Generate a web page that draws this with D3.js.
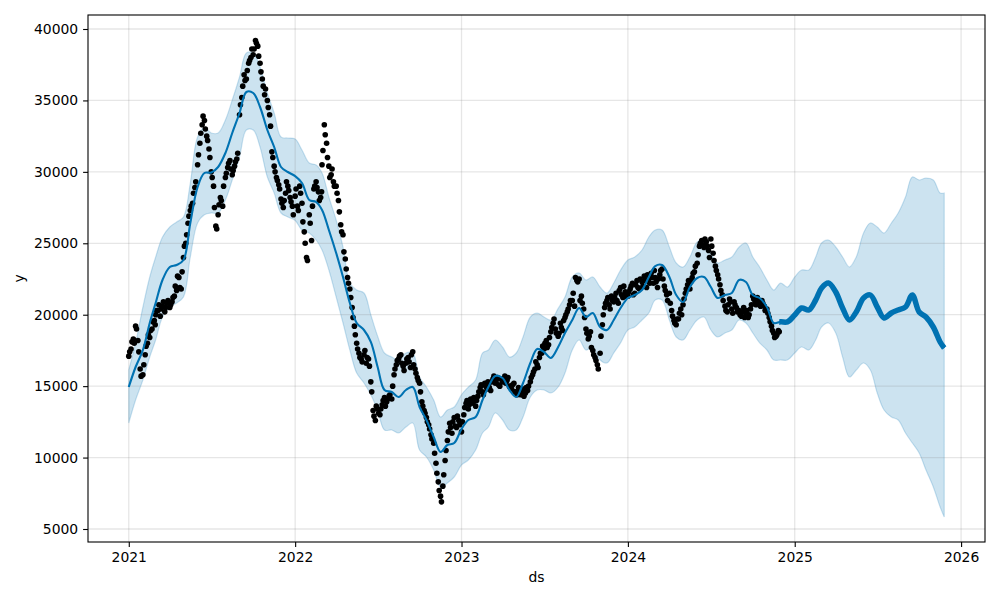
<!DOCTYPE html>
<html><head><meta charset="utf-8">
<script src="https://cdn.jsdelivr.net/npm/d3@7"></script>
<style>
body{margin:0;background:#fff}
svg text{font-family:"DejaVu Sans",sans-serif;fill:#000}
</style>
</head><body>
<svg id="c" width="1000" height="600"></svg>
<script>
// ---------- DATA ----------
// observed values: 6 readings per month on the days below, one array per year
const obsDays = [1, 6, 11, 16, 21, 26];
const obsYears = [2021, 2022, 2023, 2024];
const obs2021 = [
  17100, 17600, 18300, 19200, 18200, 16200,
  15800, 17200, 18000, 18400, 19000, 19600,
  20000, 20300, 19900, 20600, 20200, 20800,
  20500, 20900, 21300, 21700, 22600, 21800,
  24000, 25000, 26400, 27300, 27800, 28900,
  30500, 32000, 33300, 33600, 32500, 31600,
  30000, 29000, 26200, 27000, 28200, 27600,
  29600, 30300, 30800, 29800, 30400, 30900,
  34000, 35200, 36800, 36500, 37600, 38000,
  38200, 39200, 38800, 37600, 36500, 35400,
  35000, 34000, 31400, 30400, 29600, 29100,
  28100, 27500, 28500, 29000, 28200, 27600
];
const obs2022 = [
  28300, 27600, 29000, 27800, 25800, 24000,
  27000, 25200, 28800, 29300, 28600, 28200,
  30500, 33300, 32000, 30400, 29800, 29300,
  29000, 28000, 26300, 25600, 23900, 22600,
  21800, 20500, 19200, 18000, 17300, 16900,
  17200, 16600, 16900, 15300, 13300, 12600,
  13400, 13000, 13700, 14200, 13900, 14300,
  14100, 15800, 16500, 16900, 17200, 16400,
  16600, 17000, 16300, 17400, 16200, 15600,
  15200, 13900, 13300, 12800, 12300, 11600,
  11000, 9600, 8300, 7300, 8000, 9800,
  11200, 12400, 11700, 12800, 12100, 12600
];
const obs2023 = [
  11800, 13000, 13800, 13400, 14100, 13800,
  13600, 14300, 14900, 14600, 15200, 14800,
  15100, 14700, 15500, 15200, 15600, 15000,
  15300, 15700, 15400, 15000, 14800, 15200,
  14600, 14900, 14400, 14800, 14500, 14700,
  15300, 15800, 16200, 16500, 17000, 17300,
  17600, 18200, 17900, 18800, 19400, 19000,
  18500, 19400, 18900, 19800, 20200, 20700,
  21000, 20600, 22400, 22500, 21300, 20400,
  19000, 18300, 18800, 17500, 17000, 16500,
  17300, 19300, 20500, 21000, 20700, 21300,
  20900, 21500, 20800, 21900, 21200, 21600
];
const obs2024 = [
  21300, 21800, 22200, 21500, 22400, 21800,
  22300, 22700, 21900, 22500, 22900, 22200,
  22600, 21900, 22800, 23200, 22000, 21400,
  21500, 20300, 19600, 19300, 19700, 20400,
  20700, 21500, 22100, 21800, 22600, 23000,
  23600, 24800, 25200, 24700, 25100, 24500,
  25300, 24300, 23400, 22800, 22100, 21400,
  20600, 20200, 21100, 20400, 20900, 20500,
  20300, 19900, 20500, 20100, 19800, 20400,
  21300, 20900, 21200, 20800, 21000, 20600,
  20400, 19800, 19200, 18700, 18500, 18900
];
// second set of readings per month on these days
const obsDaysB = [3, 8, 13, 18, 23, 28];
const obs2021b = [
  17400, 18100, 18000, 19000, 17400, 15700,
  16500, 17800, 18600, 18900, 19500, 19300,
  20300, 20700, 20400, 20900, 20500, 21000,
  20700, 21200, 22000, 22700, 21900, 23000,
  24800, 25600, 26900, 27600, 28500, 29300,
  31200, 32700, 33900, 33000, 32200, 31000,
  29600, 27500, 26000, 27700, 28000, 29000,
  29900, 30600, 30200, 30100, 30700, 31300,
  34700, 36000, 36400, 37100, 37800, 38600,
  38600, 39000, 38100, 37000, 36000, 35800,
  34500, 33200, 31000, 30000, 29400, 28800,
  27800, 28000, 29300, 28700, 27900, 27000
];
const obs2022b = [
  28800, 27300, 28500, 26500, 25000, 23800,
  26400, 27600, 29000, 28900, 28000, 28600,
  31500, 32600, 31000, 29600, 30200, 29000,
  28500, 27200, 25800, 24400, 23200, 22200,
  21200, 19800, 18600, 17600, 17000, 16700,
  17500, 17000, 16400, 14600, 12900, 13600,
  13100, 13400, 14000, 13600, 14100, 14400,
  15000, 16200, 16800, 17100, 16600, 16100,
  16900, 16700, 17200, 16500, 15900, 15400,
  14600, 13600, 13100, 12500, 12000, 11300,
  10300, 8900, 7700, 6900, 8800, 10500,
  11800, 12100, 12500, 12200, 12900, 12300
];
const obs2023b = [
  12500, 13500, 14000, 13700, 13900, 14200,
  14000, 14600, 15100, 14400, 15000, 15300,
  14900, 15300, 15700, 15400, 15100, 15500,
  15500, 15200, 15600, 14900, 15100, 14600,
  14400, 14700, 14600, 14300, 14900, 15000,
  15600, 16000, 16700, 16300, 17300, 17800,
  18000, 17700, 18400, 19100, 19700, 18700,
  18700, 19100, 19600, 20000, 20400, 21000,
  21500, 22600, 22300, 21000, 20800, 19800,
  18700, 18500, 17700, 17200, 16800, 16200,
  18500, 20000, 20800, 21200, 20400, 21000,
  21200, 21000, 21700, 21400, 22000, 21300
];
const obs2024b = [
  21600, 22000, 21400, 22100, 21900, 22500,
  22000, 22400, 22800, 22200, 22600, 23100,
  22300, 22500, 23100, 22500, 21700, 21000,
  20800, 19900, 19400, 19700, 20100, 20000,
  21100, 21800, 22400, 22300, 22900, 23400,
  24200, 25000, 24900, 25300, 24800, 24000,
  24800, 23800, 23100, 22500, 21700, 21000,
  20300, 20700, 20900, 20100, 20700, 20200,
  20000, 20200, 19800, 20300, 20000, 20700,
  21100, 20700, 21000, 20600, 20800, 20300,
  20100, 19500, 18900, 18400, 18600, 18800
];

// forecast: readings on the 1st and 16th of each month, 2021-01 .. 2025-11, plus last day
const fcDays = [1, 16];
const fcFirstYear = 2021, fcLastYear = 2025, fcLastMonth = 11;
const fcEndDate = "2025-11-25";
const yhat = [
  // 2021
  14940, 16340, 17530, 19420, 20820, 22430, 23340, 23480, 23830, 26420, 28940, 29920,
  29950, 30340, 31320, 32720, 34120, 35590, 35520, 34540, 32930, 31740, 30340, 29990,
  // 2022
  29700, 29220, 28030, 27890, 27330, 25930, 24320, 22640, 20820, 19420, 18930, 18100,
  16340, 14730, 14590, 14240, 14730, 14940, 13540, 12630, 11440, 10390, 10880, 11020,
  // 2023
  12000, 12630, 12840, 14030, 14940, 15710, 15570, 14730, 14240, 15220, 16620, 17600,
  17390, 16970, 17740, 18720, 19630, 20470, 19840, 20120, 19140, 18930, 19630, 20470,
  // 2024
  21170, 21380, 21730, 22640, 23400, 23480, 22640, 21380, 20890, 21940, 22570, 22640,
  21940, 21170, 21380, 21520, 22430, 22290, 21380, 21170, 20540, 19420, 19500, 19500,
  // 2025
  19980, 20470, 20330, 21030, 21870, 22220, 21590, 20470, 19630, 20190, 21170, 21380,
  20540, 19770, 20120, 20330, 20540, 21380, 20190, 19840, 19140, 18090,
  17670
];
const yhatUpper = [
  16130, 18030, 20540, 22640, 24040, 25440, 26140, 26490, 26840, 29220, 32440, 33100,
  32720, 32720, 33630, 35030, 36640, 38320, 38320, 37340, 35520, 34120, 32440, 32370,
  32300, 31530, 30620, 30480, 29920, 28240, 26630, 24740, 22220, 21730, 21520, 20000,
  18500, 17320, 17040, 16830, 17320, 17320, 15640, 14940, 14030, 12840, 13330, 13540,
  14400, 14940, 15430, 17320, 17530, 18230, 17740, 17040, 17320, 18440, 19840, 20120,
  19840, 19630, 20440, 21240, 22640, 22920, 22430, 22640, 21940, 21520, 22220, 23130,
  23830, 24040, 24530, 25440, 25930, 25930, 24740, 23620, 23340, 24040, 25090, 25230,
  24320, 23620, 23830, 24040, 24740, 25020, 24040, 23340, 22430, 21730, 22220, 21940,
  22640, 23130, 23130, 24040, 25020, 25230, 24740, 24040, 23340, 24040, 25720, 26420,
  26140, 25720, 26420, 27120, 28240, 29640, 29430, 29570, 29430, 28520,
  28520
];
const yhatLower = [
  12420, 14030, 15430, 17040, 18230, 19840, 20540, 20820, 21240, 24040, 26420, 27000,
  27120, 27120, 28030, 29430, 31040, 32930, 32930, 31740, 29640, 28520, 27120, 26840,
  26600, 25930, 25720, 25230, 24530, 23130, 21240, 19420, 17530, 15920, 15220, 14400,
  13300, 11930, 11930, 11720, 12140, 12420, 10530, 10040, 9130, 7940, 8220, 8640,
  9480, 9830, 10530, 11720, 12140, 13120, 12630, 11930, 11930, 12840, 14240, 14730,
  14730, 14520, 14940, 15920, 17530, 18230, 17530, 17740, 16830, 16620, 17320, 18030,
  18930, 19140, 19630, 20120, 21030, 21030, 19630, 18440, 18230, 18930, 19630, 19840,
  18930, 18440, 18720, 18930, 19630, 19420, 18720, 18030, 17530, 16830, 16830, 16830,
  17320, 17740, 17530, 18230, 19140, 19420, 18720, 17040, 15640, 16130, 16620, 16130,
  14520, 13330, 12840, 12630, 11720, 11020, 10320, 9130, 7940, 6540,
  5840
];

const xTickYears = [2021, 2022, 2023, 2024, 2025, 2026];
const yTicks = [5000, 10000, 15000, 20000, 25000, 30000, 35000, 40000];
const yDomain = [4090, 40980];
const xLabel = "ds", yLabel = "y";

// ---------- BUILD ROWS ----------
const obs = [];
function addObs(arrays, days) {
  arrays.forEach((arr, yi) => {
    arr.forEach((v, i) => {
      obs.push({ date: new Date(Date.UTC(obsYears[yi], Math.floor(i / days.length), days[i % days.length])), y: v });
    });
  });
}
addObs([obs2021, obs2022, obs2023, obs2024], obsDays);
addObs([obs2021b, obs2022b, obs2023b, obs2024b], obsDaysB);
obs.sort((a, b) => a.date - b.date);

const fcDates = [];
for (let yr = fcFirstYear; yr <= fcLastYear; yr++) {
  for (let mo = 0; mo < 12; mo++) {
    if (yr === fcLastYear && mo >= fcLastMonth) continue;
    for (const dd of fcDays) fcDates.push(new Date(Date.UTC(yr, mo, dd)));
  }
}
fcDates.push(d3.utcParse("%Y-%m-%d")(fcEndDate));
const fc = fcDates.map((d, i) => ({ date: d, yhat: yhat[i], lo: yhatLower[i], hi: yhatUpper[i] }));

// ---------- LAYOUT ----------
const L = 88, R = 985, T = 15, B = 542;
const first = fc[0].date, last = fc[fc.length - 1].date;
const span = last - first;
const x = d3.scaleUtc()
  .domain([new Date(+first - 0.05 * span), new Date(+last + 0.05 * span)])
  .range([L, R]);
const y = d3.scaleLinear().domain(yDomain).range([B, T]);

const svg = d3.select("#c");
const blue = "#0072B2";

const defs = svg.append("defs");
defs.append("clipPath").attr("id", "plot")
  .append("rect").attr("x", L).attr("y", T).attr("width", R - L).attr("height", B - T);
const lastObs = obs[obs.length - 1].date;
defs.append("clipPath").attr("id", "future")
  .append("rect").attr("x", x(lastObs)).attr("y", T).attr("width", R - x(lastObs)).attr("height", B - T);

const g = svg.append("g").attr("clip-path", "url(#plot)");

// uncertainty band
g.append("path").datum(fc)
  .attr("d", d3.area().x(d => x(d.date)).y0(d => y(d.lo)).y1(d => y(d.hi)).curve(d3.curveCatmullRom))
  .attr("fill", blue).attr("fill-opacity", 0.2)
  .attr("stroke", blue).attr("stroke-opacity", 0.2).attr("stroke-width", 1.2);

// grid
const xTickDates = xTickYears.map(yr => new Date(Date.UTC(yr, 0, 1)));
g.selectAll(".gx").data(xTickDates).join("line")
  .attr("x1", d => x(d)).attr("x2", d => x(d)).attr("y1", T).attr("y2", B)
  .attr("stroke", "#808080").attr("stroke-opacity", 0.2).attr("stroke-width", 1.3);
g.selectAll(".gy").data(yTicks).join("line")
  .attr("x1", L).attr("x2", R).attr("y1", d => y(d)).attr("y2", d => y(d))
  .attr("stroke", "#808080").attr("stroke-opacity", 0.2).attr("stroke-width", 1.3);

// observations
g.selectAll(".pt").data(obs).join("circle")
  .attr("cx", d => x(d.date)).attr("cy", d => y(d.y)).attr("r", 2.8).attr("fill", "#000");

// forecast line
const line = d3.line().x(d => x(d.date)).y(d => y(d.yhat)).curve(d3.curveCatmullRom);
g.append("path").datum(fc).attr("d", line)
  .attr("fill", "none").attr("stroke", blue).attr("stroke-width", 2.1);
g.append("path").datum(fc).attr("d", line).attr("clip-path", "url(#future)")
  .attr("fill", "none").attr("stroke", blue).attr("stroke-width", 5.5);

// axes
const fs = "13.9px";
const xAxis = svg.append("g").attr("transform", `translate(0,${B})`)
  .call(d3.axisBottom(x).tickValues(xTickDates).tickFormat(d3.utcFormat("%Y"))
    .tickSizeInner(4.9).tickSizeOuter(0).tickPadding(4.9));
const yAxis = svg.append("g").attr("transform", `translate(${L},0)`)
  .call(d3.axisLeft(y).tickValues(yTicks).tickFormat(d3.format("d"))
    .tickSizeInner(4.9).tickSizeOuter(0).tickPadding(4.9));
[xAxis, yAxis].forEach(a => {
  a.select(".domain").remove();
  a.selectAll(".tick line").attr("stroke", "#000").attr("stroke-width", 1.1);
  a.selectAll(".tick text").style("font-size", fs).style("font-family", "DejaVu Sans").attr("fill", "#000");
});

// frame
svg.append("rect").attr("x", L).attr("y", T).attr("width", R - L).attr("height", B - T)
  .attr("fill", "none").attr("stroke", "#000").attr("stroke-width", 1.1);

// axis labels
svg.append("text").attr("x", (L + R) / 2).attr("y", 582).attr("text-anchor", "middle")
  .style("font-size", fs).text(xLabel);
svg.append("text").attr("transform", `translate(24,${(T + B) / 2}) rotate(-90)`)
  .attr("text-anchor", "middle").style("font-size", fs).text(yLabel);
</script>
</body></html>
